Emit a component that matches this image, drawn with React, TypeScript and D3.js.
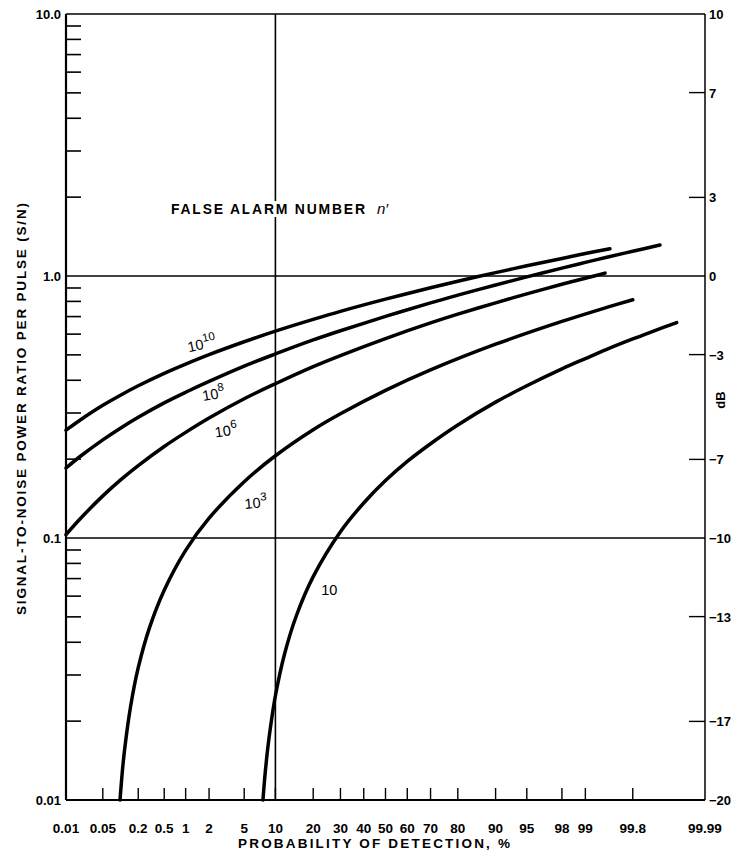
import React from "react";
import * as d3 from "d3";

// probability of detection ticks, %
const probTicks = [0.01, 0.05, 0.2, 0.5, 1, 2, 5, 10, 20, 30, 40, 50, 60, 70, 80, 90, 95, 98, 99, 99.8, 99.99];
const probLabels = ["0.01", "0.05", "0.2", "0.5", "1", "2", "5", "10", "20", "30", "40", "50", "60", "70", "80", "90", "95", "98", "99", "99.8", "99.99"];

// signal-to-noise ratio axis
const snMajor = [0.01, 0.1, 1, 10];
const snLabels = ["0.01", "0.1", "1.0", "10.0"];
const snGrid = [0.1, 1];
const dbTicks = [10, 7, 3, 0, -3, -7, -10, -13, -17, -20];

// curves, [probability %, S/N]
const curve1e10 = [[0.01, 0.258], [0.02, 0.284], [0.05, 0.321], [0.1, 0.35], [0.2, 0.381], [0.5, 0.425], [1, 0.461], [2, 0.501],
  [5, 0.561], [10, 0.616], [20, 0.683], [30, 0.733], [50, 0.816], [70, 0.902], [80, 0.955], [90, 1.03], [95, 1.094], [98, 1.167], [99, 1.218], [99.55, 1.271]];
const curve1e8 = [[0.01, 0.185], [0.02, 0.2065], [0.05, 0.237], [0.1, 0.262], [0.2, 0.289], [0.5, 0.328], [1, 0.36], [2, 0.396],
  [5, 0.453], [10, 0.504], [20, 0.57], [30, 0.618], [50, 0.701], [70, 0.79], [80, 0.845], [90, 0.924], [95, 0.992], [98, 1.072], [99, 1.127], [99.5, 1.179], [99.8, 1.243], [99.93, 1.313]];
const curve1e6 = [[0.01, 0.103], [0.02, 0.1197], [0.05, 0.1448], [0.1, 0.166], [0.2, 0.189], [0.5, 0.2235], [1, 0.253], [2, 0.287],
  [5, 0.34], [10, 0.388], [20, 0.451], [30, 0.497], [50, 0.577], [70, 0.662], [80, 0.715], [90, 0.79], [95, 0.855], [98, 0.93], [99, 0.98], [99.47, 1.026]];
const curve1e3 = [[0.1, 0.01], [0.11, 0.013], [0.12, 0.0157], [0.15, 0.0227], [0.2, 0.032], [0.3, 0.0454], [0.5, 0.0632], [1, 0.0897],
  [2, 0.119], [5, 0.164], [10, 0.206], [20, 0.259], [30, 0.298], [50, 0.366], [70, 0.438], [90, 0.549], [98, 0.671], [99.5, 0.759], [99.8, 0.812]];
const curve10 = [[7.69, 0.01], [8, 0.0122], [8.5, 0.0156], [9, 0.0188], [10, 0.025], [12, 0.0361], [15, 0.0506], [20, 0.0712],
  [30, 0.1057], [40, 0.136], [50, 0.1656], [60, 0.196], [70, 0.229], [80, 0.27], [90, 0.33], [95, 0.381], [98, 0.442], [99, 0.484],
  [99.5, 0.525], [99.8, 0.575], [99.9, 0.611], [99.965, 0.664]];

const curveNames = ["10", "8", "6", "3", ""];
const curveData = [curve1e10, curve1e8, curve1e6, curve1e3, curve10];
// where each false-alarm label sits, [probability %, S/N]
const labelAt = [[1.1, 0.512], [1.7, 0.333], [2.4, 0.242], [5.1, 0.129], [22.7, 0.0605]];
const labelTilt = [-12, -10, -8, -5, 0];

// inverse normal cdf (Acklam)
function probit(p: number) {
  const a = [-39.69683028665376, 220.9460984245205, -275.9285104469687, 138.357751867269, -30.66479806614716, 2.506628277459239];
  const b = [-54.47609879822406, 161.5858368580409, -155.6989798598866, 66.80131188771972, -13.28068155288572];
  const c = [-0.007784894002430293, -0.3223964580411365, -2.400758277161838, -2.549732539343734, 4.374664141464968, 2.938163982698783];
  const d = [0.007784695709041462, 0.3224671290700398, 2.445134137142996, 3.754408661907416];
  const pl = 0.02425;
  if (p < pl) {
    const q = Math.sqrt(-2 * Math.log(p));
    return (((((c[0] * q + c[1]) * q + c[2]) * q + c[3]) * q + c[4]) * q + c[5]) / ((((d[0] * q + d[1]) * q + d[2]) * q + d[3]) * q + 1);
  }
  if (p <= 1 - pl) {
    const q = p - 0.5, r = q * q;
    return ((((((a[0] * r + a[1]) * r + a[2]) * r + a[3]) * r + a[4]) * r + a[5]) * q) / (((((b[0] * r + b[1]) * r + b[2]) * r + b[3]) * r + b[4]) * r + 1);
  }
  const q = Math.sqrt(-2 * Math.log(1 - p));
  return -(((((c[0] * q + c[1]) * q + c[2]) * q + c[3]) * q + c[4]) * q + c[5]) / ((((d[0] * q + d[1]) * q + d[2]) * q + d[3]) * q + 1);
}

const W = 739, H = 855;
const left = 66, right = 705, top = 14, bottom = 800;
const font = "'Liberation Sans', Arial, sans-serif";

const z = d3.scaleLinear().domain([probit(0.0001), probit(0.9999)]).range([left, right]);
const x = (pct: number) => z(probit(pct / 100));
const y = d3.scaleLog().domain([0.01, 10]).range([bottom, top]);
const dbToSn = (db: number) => Math.pow(10, db / 10);

const line = d3.line<number[]>()
  .x(d => x(d[0]))
  .y(d => y(d[1]))
  .curve(d3.curveCatmullRom.alpha(0.5));

export default function App() {
  const minor: number[] = [];
  [0.01, 0.1, 1].forEach(dec => {
    for (let k = 2; k <= 9; k++) minor.push(dec * k);
  });

  return (
    <svg width={W} height={H} style={{display: "block", marginLeft: -8, marginTop: -8}}>
      <rect width={W} height={H} fill="#fff"/>
      <g fill="none" stroke="#000">
        {/* frame */}
        <line x1={left} x2={right} y1={top} y2={top} strokeWidth={1.5}/>
        <line x1={left} x2={right} y1={bottom} y2={bottom} strokeWidth={2}/>
        <line x1={left} x2={left} y1={top} y2={bottom} strokeWidth={2.2}/>
        <line x1={right} x2={right} y1={top} y2={bottom} strokeWidth={1.5}/>
        {/* grid */}
        {snGrid.map(v => <line key={v} x1={left} x2={right} y1={y(v)} y2={y(v)} strokeWidth={1.4}/>)}
        <line x1={x(10)} x2={x(10)} y1={top} y2={bottom} strokeWidth={1.6}/>
        {/* left minor ticks */}
        {minor.map(v => <line key={v} x1={left} x2={left + 15} y1={y(v)} y2={y(v)} strokeWidth={1.6}/>)}
        {/* bottom ticks */}
        {probTicks.slice(1, -1).map(p => <line key={p} x1={x(p)} x2={x(p)} y1={bottom} y2={bottom - 12} strokeWidth={1.4}/>)}
        {/* right dB ticks */}
        {dbTicks.filter(t => t % 10 !== 0).map(t =>
          <line key={t} x1={right} x2={right - 16} y1={y(dbToSn(t))} y2={y(dbToSn(t))} strokeWidth={1.4}/>)}
        {/* curves */}
        {curveData.map((c, i) => <path key={i} d={line(c) || ""} strokeWidth={3.5} strokeLinecap="round"/>)}
      </g>

      <g fontFamily={font} fontWeight="bold" fontSize={13} fill="#000">
        {snMajor.map((v, i) =>
          <text key={v} x={left - 5} y={y(v) + 5} textAnchor="end">{snLabels[i]}</text>)}
        {probTicks.map((p, i) =>
          <text key={p} x={x(p)} y={833} textAnchor="middle" fontSize={13.5}>{probLabels[i]}</text>)}
        {dbTicks.map(t =>
          <text key={t} x={right + 4} y={y(dbToSn(t)) + 5}>{t < 0 ? "\u2212" + Math.abs(t) : String(t)}</text>)}

        <text x={374} y={848} textAnchor="middle" fontSize={13.5} textLength={272} lengthAdjust="spacing">PROBABILITY OF DETECTION, %</text>
        <text transform={`translate(26, 409) rotate(-90)`} textAnchor="middle" fontSize={13.5} textLength={412} lengthAdjust="spacing">SIGNAL-TO-NOISE POWER RATIO PER PULSE  (S/N)</text>
        <text transform={`translate(725, 400) rotate(-90)`} textAnchor="middle" fontSize={13}>dB</text>

        <text x={171} y={214} fontSize={14} textLength={194} lengthAdjust="spacing"
              stroke="#fff" strokeWidth={6} paintOrder="stroke">FALSE ALARM NUMBER</text>
        <text x={377} y={214} fontSize={15} fontStyle="italic" fontWeight="normal"
              stroke="#fff" strokeWidth={6} paintOrder="stroke">n′</text>

        {labelAt.map((l, i) => (
          <text key={i} transform={`translate(${x(l[0])}, ${y(l[1])}) rotate(${labelTilt[i]})`} fontSize={14.5} fontWeight="normal">
            10{curveNames[i] && <tspan dy={-7} fontSize={11.5}>{curveNames[i]}</tspan>}
          </text>
        ))}
      </g>
    </svg>
  );
}
